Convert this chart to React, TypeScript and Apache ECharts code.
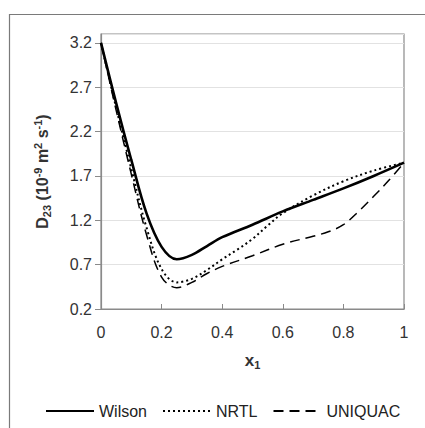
import React, { useEffect, useRef } from "react";
import * as echarts from "echarts";

const xTicks = [0, 0.2, 0.4, 0.6, 0.8, 1];
const wilsonX = [0, 0.05, 0.1, 0.15, 0.2, 0.25, 0.3, 0.35, 0.4, 0.5, 0.6, 0.7, 0.8, 0.9, 1];
const wilsonY = [3.2, 2.52, 1.88, 1.28, 0.9, 0.76, 0.81, 0.91, 1.01, 1.15, 1.3, 1.43, 1.56, 1.7, 1.85];
const nrtlX = [0, 0.05, 0.1, 0.15, 0.2, 0.25, 0.3, 0.35, 0.4, 0.45, 0.5, 0.55, 0.6, 0.7, 0.8, 0.9, 1];
const nrtlY = [3.2, 2.47, 1.78, 1.12, 0.65, 0.5, 0.54, 0.64, 0.76, 0.87, 0.99, 1.14, 1.28, 1.48, 1.64, 1.76, 1.85];
const uniquacX = [0, 0.05, 0.1, 0.15, 0.2, 0.25, 0.3, 0.35, 0.4, 0.5, 0.6, 0.7, 0.75, 0.8, 0.85, 0.9, 0.95, 1];
const uniquacY = [3.2, 2.44, 1.72, 1.04, 0.56, 0.44, 0.5, 0.6, 0.68, 0.8, 0.93, 1.02, 1.07, 1.15, 1.3, 1.47, 1.65, 1.85];

const zip = (xs: number[], ys: number[]) => xs.map((x, i) => [x, ys[i]]);

export default function App() {
  const ref = useRef<HTMLDivElement>(null);
  useEffect(() => {
    document.body.style.margin = "0";
    const chart = echarts.init(ref.current!, null, { renderer: "svg" });
    const font = "'Liberation Sans', Arial, sans-serif";
    chart.setOption({
      animation: false,
      backgroundColor: "#ffffff",
      textStyle: { fontFamily: font },
      graphic: [
        {
          type: "rect",
          shape: { x: 9.5, y: 14.5, width: 440, height: 440 },
          style: { fill: "none", stroke: "#7a7a7a", lineWidth: 1.2 },
          silent: true,
        },
      ],
      grid: {
        left: 101,
        top: 34,
        right: 21,
        bottom: 119,
        show: true,
        borderColor: "#8a8a8a",
        borderWidth: 1.2,
        backgroundColor: "transparent",
      },
      legend: {
        top: 398,
        left: 40,
        itemWidth: 48,
        itemHeight: 10,
        itemGap: 15,
        icon: undefined,
        itemStyle: { opacity: 0 },
        textStyle: { fontSize: 16, color: "#222", fontFamily: font },
        data: ["Wilson", "NRTL", "UNIQUAC"],
      },
      xAxis: {
        type: "value",
        min: 0,
        max: 1,
        interval: 0.2,
        data: xTicks,
        name: "{b|x}{s|1}",
        nameLocation: "middle",
        nameGap: 42,
        nameTextStyle: {
          rich: {
            b: { fontSize: 17, fontWeight: "bold", color: "#333", fontFamily: font },
            s: { fontSize: 11, fontWeight: "bold", color: "#333", fontFamily: font, padding: [8, 0, 0, 0] },
          },
        },
        axisLine: { show: true, lineStyle: { color: "#8a8a8a", width: 1.2 } },
        axisTick: { show: true, inside: true, length: 5, lineStyle: { color: "#8a8a8a" } },
        splitLine: { show: false },
        axisLabel: { fontSize: 16, color: "#333", margin: 15, fontFamily: font },
      },
      yAxis: {
        type: "value",
        min: 0.2,
        max: 3.3,
        interval: 0.5,
        name: "{b|D}{sub|23}{b| (10}{sup|-9}{b| m}{sup|2}{b| s}{sup|-1}{b|)}",
        nameLocation: "middle",
        nameRotate: 90,
        nameGap: 49,
        nameTextStyle: {
          rich: {
            b: { fontSize: 16, fontWeight: "bold", color: "#333", fontFamily: font },
            sub: { fontSize: 11, fontWeight: "bold", color: "#333", fontFamily: font, padding: [9, 0, 0, 0] },
            sup: { fontSize: 11, fontWeight: "bold", color: "#333", fontFamily: font, padding: [0, 0, 8, 0] },
          },
        },
        axisLine: { show: true, lineStyle: { color: "#8a8a8a", width: 1.2 } },
        axisTick: { show: true, inside: false, length: 6, lineStyle: { color: "#8a8a8a" } },
        splitLine: { show: true, lineStyle: { color: "#e2e2e2", width: 1 } },
        axisLabel: {
          fontSize: 16,
          color: "#333",
          margin: 9,
          fontFamily: font,
          showMaxLabel: false,
          formatter: (v: number) => (Math.abs(v - 3.3) < 1e-6 ? "" : String(Math.round(v * 10) / 10)),
        },
      },
      series: [
        {
          name: "Wilson",
          type: "line",
          data: zip(wilsonX, wilsonY),
          smooth: 0.35,
          symbol: "none",
          lineStyle: { color: "#000", width: 2.6, type: "solid" },
          itemStyle: { color: "#000" },
        },
        {
          name: "NRTL",
          type: "line",
          data: zip(nrtlX, nrtlY),
          smooth: 0.35,
          symbol: "none",
          lineStyle: { color: "#000", width: 2, type: [2, 3] },
          itemStyle: { color: "#000" },
        },
        {
          name: "UNIQUAC",
          type: "line",
          data: zip(uniquacX, uniquacY),
          smooth: 0.35,
          symbol: "none",
          lineStyle: { color: "#000", width: 1.5, type: [10, 6] },
          itemStyle: { color: "#000" },
        },
      ],
    });
    return () => chart.dispose();
  }, []);
  return <div ref={ref} style={{ width: 425, height: 428 }} />;
}
